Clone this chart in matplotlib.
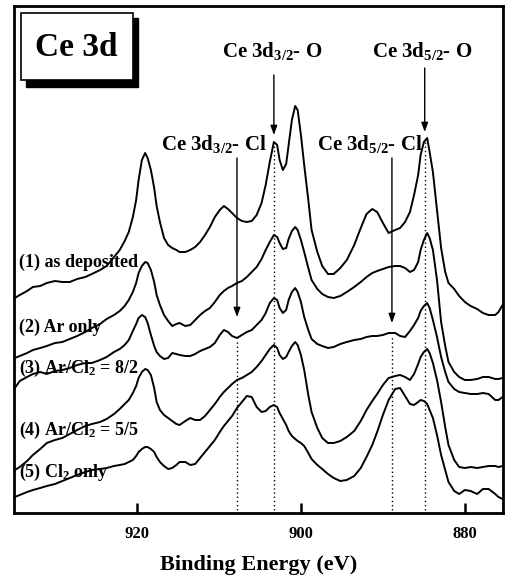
import matplotlib
matplotlib.use("Agg")
import matplotlib.pyplot as plt
from matplotlib.patches import Rectangle

plt.rcParams['font.family'] = ['Liberation Serif', 'DejaVu Serif']
plt.rcParams['font.weight'] = 'bold'
plt.rcParams['mathtext.fontset'] = 'custom'
plt.rcParams['mathtext.rm'] = 'Liberation Serif:bold'
plt.rcParams['mathtext.it'] = 'Liberation Serif:bold:italic'
plt.rcParams['mathtext.bf'] = 'Liberation Serif:bold'

# ---------------- data ----------------
binding_energy = [934.9, 934.3, 933.4, 932.7, 931.8, 931.0, 930.0, 929.1, 928.2, 927.3,
                  926.3, 925.5, 924.5, 923.7, 922.8, 922.1, 921.5, 921.0, 920.5, 920.1,
                  919.8, 919.4, 919.0, 918.7, 918.3, 917.9, 917.6, 917.2, 916.7, 916.2,
                  915.7, 915.2, 914.8, 914.1, 913.5, 912.9, 912.3, 911.7, 911.1, 910.5,
                  909.9, 909.4, 908.9, 908.4, 907.8, 907.2, 906.6, 906.0, 905.4, 904.8,
                  904.3, 903.8, 903.3, 902.9, 902.6, 902.2, 901.8, 901.5, 901.1, 900.7,
                  900.4, 900.0, 899.6, 899.1, 898.7, 898.0, 897.4, 896.7, 896.0, 895.2,
                  894.4, 893.5, 892.7, 892.0, 891.3, 890.7, 890.0, 889.3, 888.5, 887.9,
                  887.3, 886.7, 886.2, 885.7, 885.4, 885.0, 884.6, 884.3, 883.9, 883.4,
                  882.9, 882.4, 882.0, 881.3, 880.7, 880.0, 879.3, 878.5, 877.8, 877.1,
                  876.3, 875.9, 875.4]

as_deposited = [215, 218, 222, 226, 227, 230, 232, 231, 231, 234,
                236, 239, 243, 247, 256, 263, 272, 281, 296, 313,
                333, 353, 360, 355, 343, 325, 307, 291, 275, 268,
                265, 263, 261, 261, 263, 266, 271, 278, 286, 296,
                303, 307, 304, 300, 295, 292, 291, 292, 298, 310,
                328, 351, 371, 368, 353, 343, 349, 368, 393, 407,
                403, 378, 348, 313, 283, 261, 247, 239, 239, 245,
                253, 268, 285, 299, 304, 301, 290, 280, 283, 285,
                291, 301, 318, 338, 358, 371, 375, 361, 341, 303,
                265, 241, 230, 224, 217, 211, 207, 204, 200, 198,
                198, 201, 208]

ar_only = [155, 157, 160, 163, 165, 167, 170, 171, 174, 177,
           181, 185, 189, 194, 198, 202, 207, 213, 221, 230,
           240, 247, 251, 250, 243, 231, 218, 208, 198, 192,
           187, 189, 190, 187, 188, 193, 198, 202, 205, 211,
           218, 222, 225, 227, 230, 232, 236, 241, 246, 254,
           263, 271, 278, 276, 270, 264, 265, 274, 282, 286,
           283, 273, 261, 245, 233, 224, 219, 216, 215, 217,
           221, 226, 231, 236, 240, 242, 244, 246, 247, 247,
           245, 241, 243, 251, 263, 273, 280, 275, 263, 233,
           191, 167, 151, 141, 136, 133, 133, 134, 136, 136,
           134, 134, 135]

ar_cl2_8_2 = [125, 132, 136, 139, 141, 139, 142, 143, 145, 148,
              150, 150, 153, 156, 161, 164, 168, 173, 182, 189,
              195, 198, 196, 190, 178, 167, 161, 157, 154, 155,
              160, 159, 158, 157, 157, 159, 162, 164, 166, 170,
              178, 183, 181, 177, 175, 178, 181, 183, 188, 193,
              200, 210, 215, 213, 205, 200, 203, 213, 221, 225,
              221, 211, 196, 183, 174, 169, 167, 165, 166, 169,
              171, 173, 174, 176, 177, 177, 178, 180, 180, 177,
              176, 182, 188, 195, 202, 207, 210, 205, 193, 176,
              156, 141, 131, 124, 121, 120, 119, 119, 120, 119,
              113, 113, 116]

ar_cl2_5_5 = [43, 46, 52, 58, 64, 70, 73, 75, 79, 83,
              87, 89, 91, 94, 99, 104, 109, 113, 120, 127,
              135, 141, 144, 143, 138, 125, 111, 103, 98, 95,
              92, 89, 88, 92, 95, 93, 93, 97, 103, 109,
              116, 121, 125, 129, 133, 135, 138, 141, 146, 152,
              158, 164, 168, 165, 158, 154, 156, 161, 167, 171,
              168, 158, 143, 118, 101, 85, 75, 70, 70, 72,
              76, 82, 92, 103, 112, 119, 128, 135, 137, 138,
              136, 133, 139, 149, 156, 161, 164, 160, 150, 133,
              111, 86, 68, 53, 46, 45, 46, 45, 46, 47,
              47, 46, 47]

cl2_only = [16, 18, 21, 23, 25, 27, 29, 32, 35, 38,
            41, 43, 44, 45, 47, 48, 49, 51, 53, 57,
            61, 64, 66, 66, 64, 61, 56, 51, 47, 44,
            45, 48, 51, 51, 48, 49, 55, 61, 67, 73,
            81, 87, 92, 97, 105, 111, 117, 116, 106, 101,
            102, 106, 108, 106, 100, 94, 88, 82, 77, 74,
            72, 70, 67, 60, 54, 48, 44, 39, 35, 32,
            33, 37, 45, 56, 68, 81, 98, 113, 124, 125,
            117, 109, 108, 111, 113, 112, 109, 103, 95, 78,
            58, 43, 31, 22, 19, 23, 22, 19, 24, 24,
            19, 16, 14]

spectra = [as_deposited, ar_only, ar_cl2_8_2, ar_cl2_5_5, cl2_only]
spectrum_labels = ["(1) as deposited", "(2) Ar only", "(3) Ar/Cl$_2$ = 8/2",
                   "(4) Ar/Cl$_2$ = 5/5", "(5) Cl$_2$ only"]
label_intensity = [251, 186, 145, 83, 41]

x_ticks = [920, 900, 880]
x_limits = [935.0, 875.35]
y_limits = [0, 507]

# peak markers: position (eV), label, arrow tail/tip, dotted span
peak_names = ["Ce 3d$_{3/2}$- O", "Ce 3d$_{5/2}$- O", "Ce 3d$_{3/2}$- Cl", "Ce 3d$_{5/2}$- Cl"]
peak_energy = [903.3, 884.9, 907.8, 888.9]
peak_label_x = [903.5, 885.2, 910.6, 891.6]
peak_label_y = [456, 456, 363, 363]
arrow_tail = [438, 445, 355, 355]
arrow_tip = [378, 381, 196, 190]
dotted_top = [370, 373, 173, 176]
dotted_bottom = [3, 3, 3, 3]

# ---------------- figure ----------------
W, H = 508, 583
fig = plt.figure(figsize=(W / 100, H / 100), dpi=100)
ax = fig.add_axes([14 / W, 1 - 513 / H, (503 - 14) / W, (513 - 6) / H])

for s in spectra:
    ax.plot(binding_energy, s, color='black', lw=1.4, solid_joinstyle='round')

for lab, yv in zip(spectrum_labels, label_intensity):
    ax.text(934.4, yv, lab, fontsize=13, fontweight='bold', ha='left', va='center')

for name, e, lx, ly, ta, tp, dt, db in zip(peak_names, peak_energy, peak_label_x, peak_label_y,
                                           arrow_tail, arrow_tip, dotted_top, dotted_bottom):
    ax.text(lx, ly, name, fontsize=15, fontweight='bold', ha='center', va='baseline')
    ax.annotate('', xy=(e, tp), xytext=(e, ta),
                arrowprops=dict(arrowstyle='-|>,head_length=0.55,head_width=0.2',
                                lw=1.0, color='black', shrinkA=0, shrinkB=0))
    ax.vlines(e, db, dt, colors='black', linestyles=(0, (1, 2)), lw=1.0)

ax.set_xlim(x_limits)
ax.set_ylim(y_limits)
ax.set_xticks(x_ticks)
ax.set_xticklabels([str(t) for t in x_ticks], fontsize=12, fontweight='bold')
ax.tick_params(axis='x', direction='in', length=7, width=1.8, pad=9, top=False)
ax.set_yticks([])
for sp in ax.spines.values():
    sp.set_linewidth(2.0)

ax.set_xlabel('Binding Energy (eV)', fontsize=16, fontweight='bold', labelpad=10)

# "Ce 3d" boxed title with drop shadow (figure pixel layout)
def fx(px):
    return px / W

def fy(py):
    return 1 - py / H

shadow = Rectangle((fx(26), fy(87)), fx(138) - fx(26), fy(18) - fy(87),
                   transform=fig.transFigure, facecolor='black', edgecolor='black', zorder=5)
box = Rectangle((fx(21), fy(80)), fx(133) - fx(21), fy(13) - fy(80),
                transform=fig.transFigure, facecolor='white', edgecolor='black', lw=1.2, zorder=6)
fig.patches.extend([shadow, box])
fig.text(fx(76), fy(47), 'Ce 3d', fontsize=24, fontweight='bold', ha='center', va='center', zorder=7)

fig.savefig('out.png', dpi=100)
